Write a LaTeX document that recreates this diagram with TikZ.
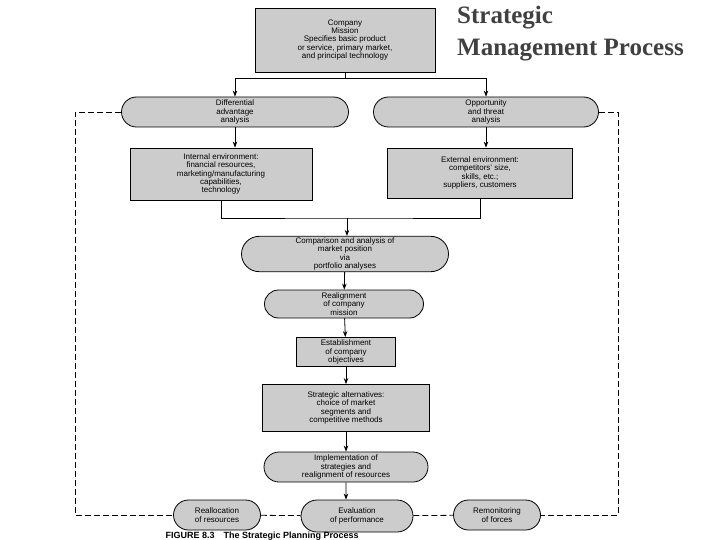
\documentclass[tikz,border=0pt]{standalone}
\usepackage{fontspec}
\setmainfont{Liberation Sans}
\newfontfamily\titlefont{Liberation Serif}
\usetikzlibrary{shapes.misc,arrows.meta}
\begin{document}
\begin{tikzpicture}[x=1pt,y=-1pt,
  box/.style={draw,thick,fill=black!20,font=\fontsize{8}{8.3}\selectfont,align=center,inner sep=1.5pt},
  pill/.style={box,rounded rectangle},
  arr/.style={thick,-{Stealth[length=6pt]}},
  dsh/.style={thick,dash pattern=on 6pt off 3pt}]
\useasboundingbox (0,0) rectangle (720,540);
\fill[white] (0,0) rectangle (720,540);
\node[box,minimum width=180,minimum height=64] (mis) at (345,40) {Company\\Mission\\Specifies basic product\\or service, primary market,\\and principal technology};
\node[pill,minimum width=230,minimum height=30] (dif) at (235,112) {Differential\\advantage\\analysis};
\node[pill,minimum width=228,minimum height=30] (opp) at (486,112) {Opportunity\\and threat\\analysis};
\node[box,minimum width=182,minimum height=52] (int) at (221,174) {Internal environment:\\financial resources,\\marketing/manufacturing\\capabilities,\\technology};
\node[box,minimum width=185,minimum height=50] (ext) at (480,173) {External environment:\\competitors' size,\\skills, etc.;\\suppliers, customers};
\node[pill,minimum width=210,minimum height=32] (cmp) at (345,254) {Comparison and analysis of\\market position\\via\\portfolio analyses};
\node[pill,minimum width=162,minimum height=28] (rea) at (344,304) {Realignment\\of company\\mission};
\node[box,minimum width=99,minimum height=29] (est) at (346,352) {Establishment\\of company\\objectives};
\node[box,minimum width=167,minimum height=47] (str) at (346,408) {Strategic alternatives:\\choice of market\\segments and\\competitive methods};
\node[pill,minimum width=167,minimum height=30] (imp) at (346,467) {Implementation of\\strategies and\\realignment of resources};
\node[pill,minimum width=90,minimum height=30] (rel) at (217,515) {Reallocation\\of resources};
\node[pill,minimum width=115,minimum height=32] (eva) at (357,516) {Evaluation\\of performance};
\node[pill,minimum width=90,minimum height=30] (rem) at (497,515) {Remonitoring\\of forces};
\coordinate (j1) at (345,78);
\draw[thick] (mis.south) -- (j1);
\draw[arr] (j1) -| (dif.north);
\draw[arr] (j1) -| (opp.north);
\draw[arr] (dif.south) -- (dif.south|-int.north);
\draw[arr] (opp.south) -- (opp.south|-ext.north);
\coordinate (j2) at (347,218);
\draw[thick] (int.south) |- (j2) -| (ext.south);
\draw[arr] (j2) -- (cmp.north-|j2);
\draw[arr] (cmp) -- (rea);
\draw[arr] (rea) -- (est);
\draw[arr] (est) -- (str);
\draw[arr] (str) -- (imp);
\draw[arr] (imp) -- (imp.south|-eva.north);
\coordinate (l1) at (75,112); \coordinate (l2) at (75,515);
\coordinate (r1) at (618,112); \coordinate (r2) at (618,515);
\draw[dsh] (dif.west) -- (l1) -- (l2) -- (rel.west);
\draw[dsh] (opp.east) -- (r1) -- (r2) -- (rem.east);
\draw[dsh] (rel) -- (eva);
\draw[dsh] (eva) -- (rem);
\node[font=\titlefont\bfseries\fontsize{25}{32}\selectfont,align=left,anchor=north west,text=black!75,inner sep=0pt] (ttl) at (457,6) {Strategic\\Management Process};
\node[font=\bfseries\fontsize{9}{10}\selectfont,anchor=west] (cap) at (162,536) {FIGURE 8.3\quad The Strategic Planning Process};
\end{tikzpicture}
\end{document}
